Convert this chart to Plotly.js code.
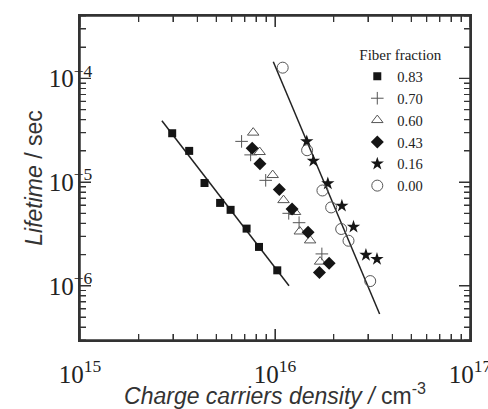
<!DOCTYPE html>
<html>
<head>
<meta charset="utf-8">
<script src="https://cdn.plot.ly/plotly-3.0.1.min.js"></script>
<style>html,body{margin:0;padding:0;background:#fff;}#chart{position:relative;width:488px;height:409px;}</style>
</head>
<body>
<div id="chart"></div>
<script>
// Charge carrier density (cm^-3) and lifetime (s) per fiber fraction
const density083 = [2.97e15, 3.63e15, 4.35e15, 5.23e15, 5.92e15, 7.15e15, 8.28e15, 1.027e16];
const lifetime083 = [2.96e-5, 2.0e-5, 9.8e-6, 6.3e-6, 5.4e-6, 3.56e-6, 2.37e-6, 1.41e-6];

const density070 = [6.74e15, 7.50e15, 8.96e15, 1.176e16, 1.329e16, 1.739e16];
const lifetime070 = [2.47e-5, 1.83e-5, 1.04e-5, 5.0e-6, 4.06e-6, 2.03e-6];

const density060 = [7.73e15, 8.34e15, 9.73e15, 1.106e16, 1.267e16, 1.34e16, 1.514e16, 1.703e16];
const lifetime060 = [3.0e-5, 1.95e-5, 1.17e-5, 6.7e-6, 5.15e-6, 3.34e-6, 2.74e-6, 1.71e-6];

const density043 = [7.64e15, 8.37e15, 1.052e16, 1.223e16, 1.478e16, 1.69e16, 1.895e16];
const lifetime043 = [2.12e-5, 1.5e-5, 8.5e-6, 5.5e-6, 3.28e-6, 1.34e-6, 1.65e-6];

const density016 = [1.455e16, 1.573e16, 1.866e16, 2.203e16, 2.527e16, 2.926e16, 3.334e16];
const lifetime016 = [2.47e-5, 1.6e-5, 9.7e-6, 5.9e-6, 3.7e-6, 1.98e-6, 1.81e-6];

const density000 = [1.095e16, 1.461e16, 1.751e16, 1.941e16, 2.185e16, 2.382e16, 3.078e16];
const lifetime000 = [1.27e-4, 2.03e-5, 8.3e-6, 5.7e-6, 3.53e-6, 2.72e-6, 1.11e-6];

// Fitted lines (end points)
const fitA_x = [2.63e15, 1.18e16];
const fitA_y = [3.91e-5, 1.0e-6];
const fitB_x = [9.8e15, 3.44e16];
const fitB_y = [1.45e-4, 5.35e-7];

const seriesNames = ['0.83', '0.70', '0.60', '0.43', '0.16', '0.00'];

const dark = '#151515';
const gray = '#555555';
const frameColor = '#333333';
const serif = 'Liberation Serif, Times New Roman, serif';
const sans = 'Liberation Sans, Arial, sans-serif';

const traces = [
  {x: fitA_x, y: fitA_y, mode: 'lines', line: {color: '#222222', width: 1.5}, showlegend: false, hoverinfo: 'skip'},
  {x: fitB_x, y: fitB_y, mode: 'lines', line: {color: '#222222', width: 1.5}, showlegend: false, hoverinfo: 'skip'},
  {x: density083, y: lifetime083, name: seriesNames[0], mode: 'markers',
   marker: {symbol: 'square', size: 8, color: dark}},
  {x: density070, y: lifetime070, name: seriesNames[1], mode: 'markers',
   marker: {symbol: 'cross-thin-open', size: 9, color: gray, line: {color: gray, width: 1}}},
  {x: density060, y: lifetime060, name: seriesNames[2], mode: 'markers',
   marker: {symbol: 'triangle-up-open', size: 10, color: gray, line: {color: gray, width: 1}}},
  {x: density043, y: lifetime043, name: seriesNames[3], mode: 'markers',
   marker: {symbol: 'diamond', size: 10, color: dark}},
  {x: density016, y: lifetime016, name: seriesNames[4], mode: 'markers',
   marker: {symbol: 'star', size: 10, color: dark}},
  {x: density000, y: lifetime000, name: seriesNames[5], mode: 'markers',
   marker: {symbol: 'circle-open', size: 11, color: gray, line: {color: gray, width: 1}}}
];

function makeAxis(extra) {
  const ax = {
    type: 'log', dtick: 1, exponentformat: 'power',
    ticks: 'inside', ticklen: 11, tickwidth: 1.3, tickcolor: frameColor,
    showline: true, linecolor: frameColor, linewidth: 1.5, mirror: 'allticks',
    showgrid: false, zeroline: false,
    minor: {ticks: 'inside', ticklen: 6, tickwidth: 1.1, tickcolor: frameColor, showgrid: false},
    tickfont: {family: serif, size: 20, color: '#222222'}
  };
  return Object.assign(ax, extra);
}

const layout = {
  width: 488, height: 409,
  margin: {l: 80, r: 18, t: 16, b: 69},
  xaxis: makeAxis({
    range: [15, 17],
    ticklabelstandoff: 12,
    ticklabeloverflow: 'allow',
    title: {text: '<i>Charge carriers density /</i> cm<sup>-3</sup>', standoff: 0,
            font: {family: sans, size: 23, color: '#333333'}}
  }),
  yaxis: makeAxis({
    range: [Math.log10(3e-7), Math.log10(4e-4)],
    ticklabelstandoff: -18,
    title: {text: '<i>Lifetime</i> / sec', standoff: 0,
            font: {family: sans, size: 23, color: '#333333'}}
  }),
  legend: {
    x: 0.711, y: 0.923, xanchor: 'left', yanchor: 'top',
    bgcolor: 'rgba(0,0,0,0)', tracegroupgap: 0,
    font: {family: serif, size: 14.5, color: '#222222'},
    title: {text: 'Fiber fraction', font: {family: serif, size: 15, color: '#222222'}}
  },
  showlegend: true
};

// Redraw frame and ticks from the library's own axis scales as an overlay
function drawFrame(gd) {
  const fl = gd._fullLayout;
  const xa = fl.xaxis, ya = fl.yaxis, s = fl._size;
  const NS = 'http://www.w3.org/2000/svg';
  const svg = document.createElementNS(NS, 'svg');
  svg.setAttribute('width', fl.width);
  svg.setAttribute('height', fl.height);
  svg.setAttribute('style', 'position:absolute;left:0;top:0;pointer-events:none;z-index:5;');
  let d = '';
  const L = s.l, R = s.l + s.w, T = s.t, B = s.t + s.h;
  function tickVals(ax) {
    const out = [];
    const lo = Math.min(ax.range[0], ax.range[1]), hi = Math.max(ax.range[0], ax.range[1]);
    for (let dec = Math.floor(lo); dec <= Math.ceil(hi); dec++) {
      for (let m = 1; m <= 9; m++) {
        const lv = dec + Math.log10(m);
        if (lv >= lo - 1e-9 && lv <= hi + 1e-9) out.push({v: Math.pow(10, lv), major: m === 1});
      }
    }
    return out;
  }
  tickVals(xa).forEach(function(t) {
    const px = (s.l + xa.c2p(t.v)).toFixed(1);
    const len = t.major ? 11 : 6;
    d += 'M' + px + ',' + B + 'v' + (-len) + 'M' + px + ',' + T + 'v' + len;
  });
  tickVals(ya).forEach(function(t) {
    const py = (s.t + ya.c2p(t.v)).toFixed(1);
    const len = t.major ? 11 : 6;
    d += 'M' + L + ',' + py + 'h' + len + 'M' + R + ',' + py + 'h' + (-len);
  });
  const ticks = document.createElementNS(NS, 'path');
  ticks.setAttribute('d', d);
  ticks.setAttribute('style', 'fill:none;stroke:' + frameColor + ';stroke-width:1.2px;');
  svg.appendChild(ticks);
  const rect = document.createElementNS(NS, 'rect');
  rect.setAttribute('x', L); rect.setAttribute('y', T);
  rect.setAttribute('width', s.w); rect.setAttribute('height', s.h);
  rect.setAttribute('style', 'fill:none;stroke:' + frameColor + ';stroke-width:1.5px;');
  svg.appendChild(rect);
  gd.appendChild(svg);
}

Plotly.newPlot('chart', traces, layout, {displayModeBar: false}).then(drawFrame);
</script>
</body>
</html>
